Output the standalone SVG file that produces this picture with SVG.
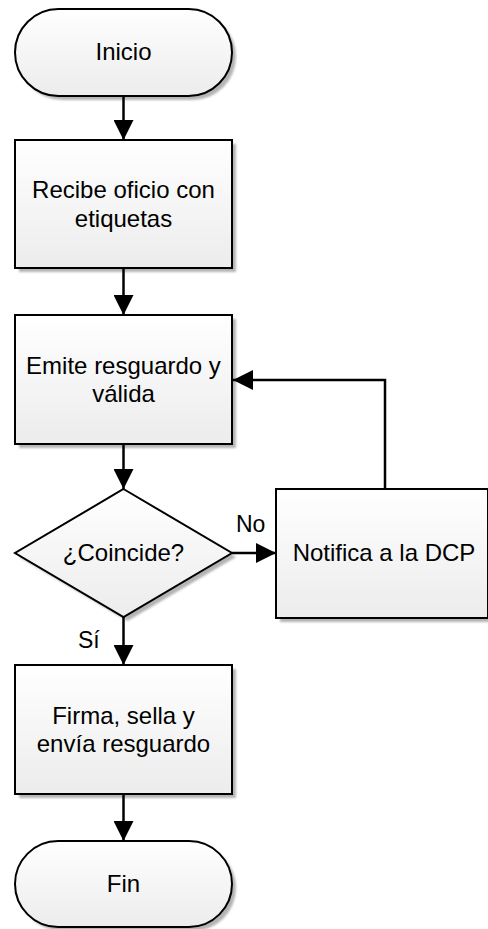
<svg xmlns="http://www.w3.org/2000/svg" width="488" height="929" viewBox="0 0 488 929">
<defs>
<linearGradient id="g" x1="0" y1="0" x2="0" y2="1">
<stop offset="0" stop-color="#ffffff"/>
<stop offset="1" stop-color="#ececec"/>
</linearGradient>
<filter id="sh" x="-10%" y="-10%" width="130%" height="130%">
<feGaussianBlur stdDeviation="1"/>
</filter>
<marker id="ah" markerWidth="20" markerHeight="20" viewBox="0 0 20 20" refX="20" refY="10" orient="auto" markerUnits="userSpaceOnUse">
<path d="M0,0 L20,10 L0,20 Z" fill="#000"/>
</marker>
</defs>
<style>
.sh{fill:#b4b4b4;filter:url(#sh)}
.n{fill:url(#g);stroke:#000;stroke-width:2}
.t{font-family:"Liberation Sans",Arial,sans-serif;font-size:24px;fill:#000;text-anchor:middle}
.l{font-family:"Liberation Sans",Arial,sans-serif;font-size:23px;fill:#000}
.c{fill:none;stroke:#000;stroke-width:2.5}
</style>
<g id="inicio">
<rect class="sh" x="19" y="13" width="217" height="87" rx="43.5"/>
<rect class="n" x="15" y="9" width="217" height="87" rx="43.5"/>
<text class="t" x="123.5" y="60">Inicio</text>
</g>
<g id="recibe">
<rect class="sh" x="19" y="144" width="217" height="128"/>
<rect class="n" x="15" y="140" width="217" height="128"/>
<text class="t" x="123.5" y="198">Recibe oficio con</text>
<text class="t" x="123.5" y="227">etiquetas</text>
</g>
<g id="emite">
<rect class="sh" x="19" y="319" width="217" height="129"/>
<rect class="n" x="15" y="315" width="217" height="129"/>
<text class="t" x="123.5" y="374">Emite resguardo y</text>
<text class="t" x="123.5" y="402">válida</text>
</g>
<g id="coincide">
<path class="sh" d="M127.5,493 L236,557 L127.5,621 L19,557 Z"/>
<path class="n" d="M123.5,489 L232,553 L123.5,617 L15,553 Z"/>
<text class="t" x="123.5" y="561">¿Coincide?</text>
</g>
<g id="notifica">
<rect class="sh" x="280" y="493" width="212" height="129"/>
<rect class="n" x="276" y="489" width="212" height="129"/>
<text class="t" x="384" y="561">Notifica a la DCP</text>
</g>
<g id="firma">
<rect class="sh" x="19" y="669" width="217" height="129"/>
<rect class="n" x="15" y="665" width="217" height="129"/>
<text class="t" x="123.5" y="724">Firma, sella y</text>
<text class="t" x="123.5" y="752">envía resguardo</text>
</g>
<g id="fin">
<rect class="sh" x="19" y="845" width="217" height="86" rx="43"/>
<rect class="n" x="15" y="841" width="217" height="86" rx="43"/>
<text class="t" x="123.5" y="892">Fin</text>
</g>
<g id="connectors">
<line class="c" x1="123.5" y1="96" x2="123.5" y2="140" marker-end="url(#ah)"/>
<line class="c" x1="123.5" y1="268" x2="123.5" y2="315" marker-end="url(#ah)"/>
<line class="c" x1="123.5" y1="444" x2="123.5" y2="489" marker-end="url(#ah)"/>
<line class="c" x1="232" y1="553" x2="276" y2="553" marker-end="url(#ah)"/>
<line class="c" x1="123.5" y1="617" x2="123.5" y2="665" marker-end="url(#ah)"/>
<line class="c" x1="123.5" y1="794" x2="123.5" y2="841" marker-end="url(#ah)"/>
<polyline class="c" points="385,489 385,380 233,380" marker-end="url(#ah)"/>
<text class="l" x="236" y="532">No</text>
<text class="l" x="78" y="648">Sí</text>
</g>
</svg>
